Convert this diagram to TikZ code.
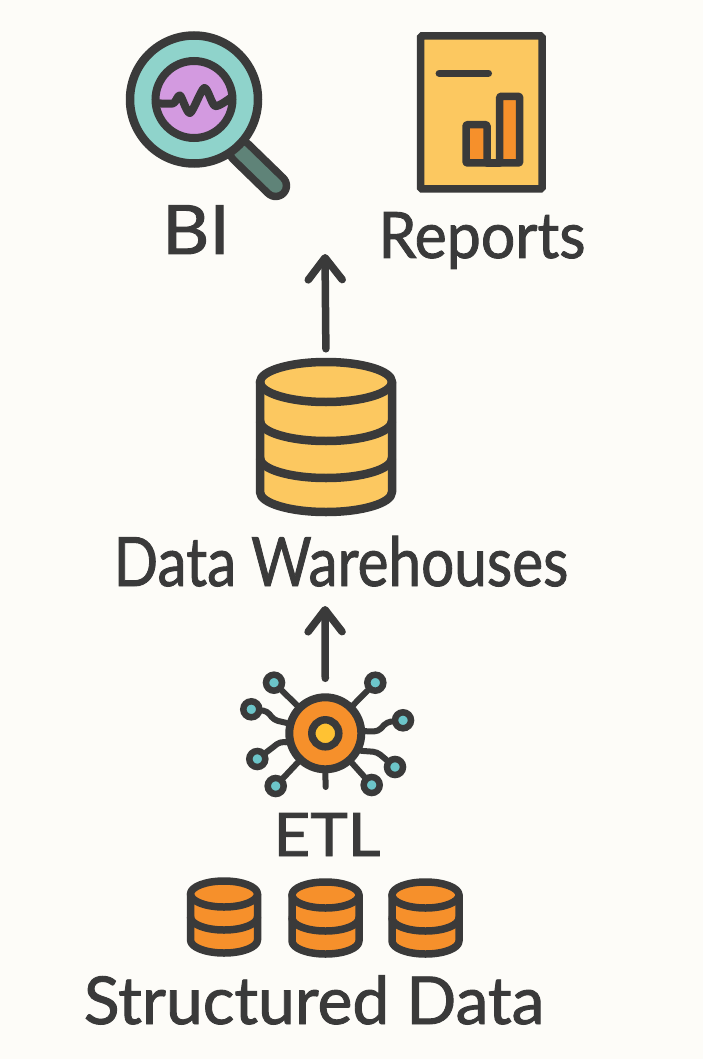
\documentclass[tikz,border=0pt]{standalone}
\usepackage{fontspec}
\setmainfont{Lato}
\newfontfamily\lblfont[FakeBold=1.4]{Lato}
\usepackage{xcolor}
\definecolor{cInk}{HTML}{3A3A3A}
\definecolor{cPaper}{HTML}{FDFCF8}
\definecolor{cTeal}{HTML}{8FD3CB}
\definecolor{cPurple}{HTML}{D39AE0}
\definecolor{cHandle}{HTML}{5F8378}
\definecolor{cYellow}{HTML}{FCC860}
\definecolor{cOrange}{HTML}{F6902B}
\definecolor{cCore}{HTML}{FFC233}
\definecolor{cDot}{HTML}{6CC5C9}
\usetikzlibrary{arrows.meta}
\tikzset{
  node-label/.style 2 args={font=\lblfont\fontsize{#1}{#1}\selectfont,text=cInk,inner sep=0pt,
    anchor=base,transform shape,xscale=#2},
  node-lens/.style={draw=cInk,circle,inner sep=0pt},
  node-sat/.style={draw=cInk,line width=6.5pt,circle,fill=cDot,inner sep=0pt,minimum size=16pt},
  arrow/.style={-{Straight Barb[length=22pt,width=34pt,round]},line width=7.5pt,draw=cInk,line cap=round},
  wire/.style={line width=6pt,draw=cInk,line cap=round,line join=round,rounded corners=4pt},
  ink-line/.style={draw=cInk,line cap=round,line join=round},
}
% name, cx, top of ellipse centre, rx, ry, bottom ellipse centre, fill, stroke
\newcommand{\dbcan}[8]{%
  \path[fill=#7,draw=none] (#2-#4,#3) arc[start angle=180,end angle=360,x radius=#4,y radius=#5]
    -- (#2+#4,#6) arc[start angle=0,end angle=180,x radius=#4,y radius=#5] -- cycle;
  \fill[#7] (#2,#3) ellipse[x radius=#4,y radius=#5];
  \draw[ink-line,line width=#8pt] (#2,#3) ellipse[x radius=#4,y radius=#5];
  \draw[ink-line,line width=#8pt] (#2-#4,#3) -- (#2-#4,#6)
    arc[start angle=180,end angle=0,x radius=#4,y radius=#5] -- (#2+#4,#3);
  \node[inner sep=0pt,minimum width=2*#4pt,minimum height=#6pt-#3pt+2*#5pt] (#1) at (#2,#3/2+#6/2) {};
}
\begin{document}
\begin{tikzpicture}[x=1pt,y=-1pt]
  \useasboundingbox (0,0) rectangle (703,1059);
  \fill[cPaper] (0,0) rectangle (703,1059);

  % magnifier
  \coordinate (handle-in) at (240.7,151.7);
  \coordinate (handle-end) at (275.7,185.7);
  \draw[ink-line,line width=29pt] (handle-in) -- (handle-end);
  \draw[draw=cHandle,line width=14pt,line cap=round] (handle-in) -- (handle-end);
  \node[node-lens,fill=cTeal,line width=8.5pt,minimum size=128pt] (lens) at (194,99.5) {};
  \node[node-lens,fill=cPurple,line width=8pt,minimum size=77pt] (glass) at (194,99.5) {};
  \draw[ink-line,line width=8pt] plot[smooth,tension=0.45] coordinates
    {(158,103.3) (173.3,103.3) (180,95.5) (190,113) (204.3,88) (215,106) (230,98.3)};
  \node[node-label={68pt}{1.07}] (bi) at (196,254) {BI};

  % report sheet
  \node[draw=cInk,fill=cYellow,line width=7.5pt,rounded corners=1.5pt,inner sep=0pt,
    minimum width=121.5pt,minimum height=153pt] (sheet) at (481.25,112.5) {};
  \coordinate (title-a) at (439.3,73.3);
  \coordinate (title-b) at (488.3,73.3);
  \draw[ink-line,line width=7.5pt] (title-a) -- (title-b);
  \draw[ink-line,fill=cOrange,line width=7.5pt,rounded corners=1pt] (466,163) -- (466,124.7)
    -- (487,124.7) -- (487,163) -- cycle;
  \draw[ink-line,fill=cOrange,line width=7.5pt,rounded corners=1pt] (499.7,163) -- (499.7,96.3)
    -- (519.7,96.3) -- (519.7,163) -- cycle;
  \draw[ink-line,line width=7.5pt] (487,163) -- (499.7,163);
  \node[node-label={64pt}{0.95}] (reports) at (482,258) {Reports};

  % warehouse
  \dbcan{dw}{326}{382}{66}{20}{492}{cYellow}{8.5}
  \foreach \y in {421,458} {
    \draw[ink-line,line width=8.5pt] (260,\y) arc[start angle=180,end angle=0,x radius=66,y radius=20];
  }
  \node[node-label={68pt}{0.86}] (dwlabel) at (341,586) {Data Warehouses};

  % etl hub
  \node[node-lens,fill=cOrange,line width=8pt,minimum size=72pt] (hub) at (325.3,733.3) {};
  \node[node-lens,fill=cCore,line width=7.5pt,minimum size=27pt] (core) at (hub) {};
  \foreach \n/\x/\y in {1/274/682.7,2/375.3/682.7,3/251.3/709.3,4/403/720.3,
      5/257.3/759,6/395/767,7/275.7/786,8/371.7/785}
    \node[node-sat] (sat\n) at (\x,\y) {};
  \foreach \n in {1,2,7,8}
    \draw[wire] (sat\n) -- (hub);
  \draw[wire] (sat3) -- (267,711) -- (274,720) -- (hub.165);
  \draw[wire] (sat4) -- (387,722) -- (378,731.5) -- (hub.3);
  \draw[wire] (sat5) -- (272,748) -- (280,741.7) -- (hub.193);
  \draw[wire] (sat6) -- (377,752) -- (hub.-26);
  \coordinate (hub-stub) at (325.7,787);
  \draw[wire] (hub.south) -- (hub-stub);
  \node[node-label={60pt}{1.06}] (etl) at (327,856) {ETL};

  % sources
  \dbcan{src1}{224}{894}{33.5}{13}{940}{cOrange}{7.5}
  \dbcan{src2}{325.5}{895}{33.5}{13}{941}{cOrange}{7.5}
  \dbcan{src3}{425.5}{895}{33.5}{13}{941}{cOrange}{7.5}
  \foreach \x/\y in {224/917,325.5/918,425.5/918} {
    \draw[ink-line,line width=7.5pt] (\x-33.5,\y) arc[start angle=180,end angle=0,x radius=33.5,y radius=13];
  }
  \node[node-label={66pt}{1.0}] (srclabel) at (314,1024) {Structured Data};

  % flow
  \coordinate (bi-in) at (325,254);
  \coordinate (dw-in) at (325,606);
  \draw[arrow,shorten <=13pt] (dw.north) -- (bi-in);
  \draw[arrow,shorten <=15pt] (hub.north) -- (dw-in);
\end{tikzpicture}
\end{document}
